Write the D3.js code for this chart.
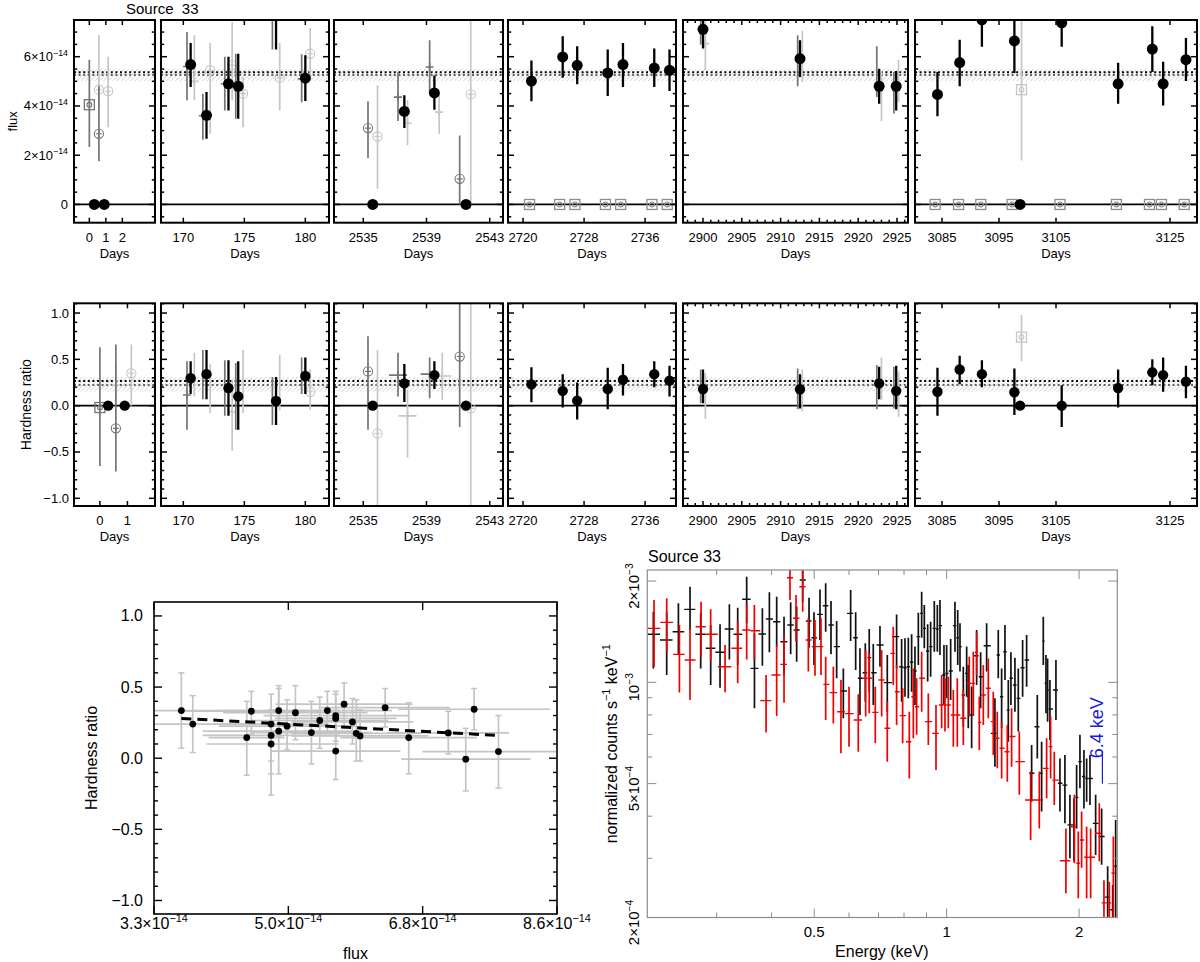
<!DOCTYPE html>
<html><head><meta charset="utf-8">
<script src="https://cdn.jsdelivr.net/npm/d3@7"></script>
<style>body{margin:0;background:#fff}svg{display:block}text{font-family:"Liberation Sans",Arial,Helvetica,sans-serif;fill:#000}</style>
</head><body><svg id="c" width="1200" height="962"></svg>
<script>
// ================= DATA =================
const sourceTitle = "Source  33";
// light-curve panels (days ranges and tick labels)
const panelDaysTop = [[-0.93,3.98],[168.17,181.94],[2533.15,2543.84],[2718.03,2740.05],[2897.42,2926.42],[3080.26,3129.74]];
const panelDaysMid = [[-0.94,2.0],[168.17,181.94],[2533.15,2543.84],[2718.03,2740.05],[2897.42,2926.42],[3080.26,3129.74]];
const dayTicksTop = [[0,1,2],[170,175,180],[2535,2539,2543],[2720,2728,2736],[2900,2905,2910,2915,2920,2925],[3085,3095,3105,3125]];
const dayTicksMid = [[0,1],[170,175,180],[2535,2539,2543],[2720,2728,2736],[2900,2905,2910,2915,2920,2925],[3085,3095,3105,3125]];
const fluxRange = [-0.74, 7.49];              // units of 1e-14
const fluxTicks = [0,2,4,6];
const fluxTickText = ["0","2×10^{−14}","4×10^{−14}","6×10^{−14}"];
const hrRange = [-1.083, 1.105];
const hrTicks = [-1,-0.5,0,0.5,1];
const hrTickText = ["−1.0","−0.5","0.0","0.5","1.0"];
const fluxMeanLines = [5.26, 5.37];
const fluxBand = [5.01, 5.50];
const hrMeanLines = [0.223, 0.267];
const hrBand = [0.151, 0.307];

// black points: [panel, day, value, low, high]
const fluxBlack = [
 [0,0.3,0,null,null],[0,0.9,0,null,null],
 [1,170.6,5.68,4.77,6.56],[1,171.9,3.62,2.67,4.57],[1,173.7,4.9,3.82,6.0],[1,174.5,4.8,3.48,6.12],[1,177.6,8.2,6.29,9.5],[1,180.0,5.13,4.2,6.06],
 [2,2535.6,0,null,null],[2,2537.6,3.78,3.1,4.43],[2,2539.5,4.53,3.85,5.24],[2,2541.5,0,null,null],
 [3,2721.1,5.01,4.19,5.85],[3,2725.2,5.99,5.15,6.83],[3,2727.1,5.65,4.88,6.42],[3,2731.1,5.34,4.4,6.29],[3,2733.1,5.68,4.77,6.56],[3,2737.2,5.54,4.77,6.33],[3,2739.2,5.45,4.61,6.29],
 [4,2900.0,7.11,6.33,8.5],[4,2912.5,5.92,5.18,6.67],[4,2922.7,4.8,4.09,5.51],[4,2924.9,4.8,3.82,5.42],
 [5,3084.2,4.47,3.58,5.38],[5,3088.1,5.76,4.8,6.69],[5,3092.0,7.5,6.4,8.5],[5,3097.7,6.64,5.34,8.0],[5,3098.7,0,null,null],
 [5,3106.0,7.37,6.4,8.5],[5,3115.9,4.9,4.09,5.75],[5,3121.9,6.31,5.38,7.24],[5,3123.8,4.9,4.02,5.79],[5,3127.8,5.88,5.01,6.76]
];
// grey points: [panel, day, value, low, high, marker, shade]  shade d=dark l=light m=medium
const fluxGrey = [
 [0,0.0,4.05,2.33,5.88,"sq","d"],[0,0.58,2.87,1.76,4.8,"o+","d"],[0,0.58,4.66,3.9,6.87,"o+","l"],[0,1.14,4.6,3.14,6.0,"o+","l"],
 [1,170.3,5.6,4.23,7.0,"+","d"],[1,171.6,3.6,2.63,4.5,"+","d"],[1,173.4,4.9,3.82,6.0,"+","d"],[1,174.3,4.8,3.48,6.12,"+","d"],[1,177.3,8.2,6.29,9.5,"+","d"],[1,179.7,5.1,4.15,6.1,"+","d"],
 [1,170.9,5.0,4.23,6.87,"+","l"],[1,172.2,5.45,2.87,6.56,"o+","l"],[1,174.0,5.65,4.23,7.4,"o+","l"],[1,174.9,4.5,3.14,5.18,"o+","l"],[1,177.9,5.15,3.82,6.56,"o+","l"],[1,180.4,6.12,5.04,7.17,"o+","l"],
 [2,2535.3,3.1,1.88,4.19,"o+","d"],[2,2537.2,4.36,3.39,5.38,"+","d"],[2,2539.2,5.58,4.5,6.67,"+","d"],[2,2541.1,1.04,0,2.8,"o+","d"],
 [2,2535.9,2.76,0.64,4.84,"o+","l"],[2,2537.8,3.3,2.4,4.23,"+","l"],[2,2539.8,3.75,2.87,4.5,"+","l"],[2,2541.8,4.47,0,8.5,"o+","l"],
 [3,2720.85,0,null,null,"sq","m"],[3,2724.8,0,null,null,"sq","m"],[3,2726.8,0,null,null,"sq","m"],[3,2730.8,0,null,null,"sq","m"],[3,2732.8,0,null,null,"sq","m"],[3,2736.9,0,null,null,"sq","m"],[3,2738.9,0,null,null,"sq","m"],
 [4,2899.7,7.0,6.5,8.5,"b","d"],[4,2912.2,5.9,4.8,6.87,"b","d"],[4,2922.4,5.0,4.36,6.42,"b","d"],[4,2924.6,4.6,3.69,5.38,"b","d"],
 [4,2900.3,6.53,5.45,8.5,"+","l"],[4,2912.8,6.0,4.97,7.05,"b","l"],[4,2923.0,4.4,3.39,5.42,"b","l"],[4,2925.2,5.0,4.16,5.88,"b","l"],
 [5,3083.8,0,null,null,"sq","m"],[5,3087.9,0,null,null,"sq","m"],[5,3091.8,0,null,null,"sq","m"],[5,3097.3,0,null,null,"sq","m"],[5,3105.7,0,null,null,"sq","m"],
 [5,3115.6,0,null,null,"sq","m"],[5,3121.4,0,null,null,"sq","m"],[5,3123.5,0,null,null,"sq","m"],[5,3127.5,0,null,null,"sq","m"],
 [5,3098.95,4.66,1.79,8.5,"sq","l"]
];
const hrBlack = [
 [0,0.3,0,null,null],[0,0.9,0,null,null],
 [1,170.6,0.296,0.126,0.48],[1,171.9,0.34,0.07,0.6],[1,173.7,0.19,-0.11,0.49],[1,174.5,0.1,-0.26,0.48],[1,177.6,0.05,-0.21,0.31],[1,180.0,0.32,0.126,0.52],
 [2,2535.6,0,null,null],[2,2537.6,0.24,0.04,0.45],[2,2539.5,0.33,0.18,0.48],[2,2541.5,0,null,null],
 [3,2721.1,0.23,0.036,0.415],[3,2725.2,0.16,-0.02,0.34],[3,2727.1,0.054,-0.15,0.25],[3,2731.1,0.18,-0.04,0.41],[3,2733.1,0.28,0.11,0.45],[3,2737.2,0.34,0.2,0.48],[3,2739.2,0.27,0.1,0.43],
 [4,2900.0,0.18,0.025,0.39],[4,2912.5,0.177,-0.03,0.34],[4,2922.7,0.24,0.07,0.42],[4,2924.9,0.16,-0.04,0.43],
 [5,3084.2,0.15,-0.11,0.41],[5,3088.1,0.39,0.23,0.54],[5,3092.0,0.34,0.2,0.49],[5,3097.7,0.145,-0.1,0.4],[5,3098.7,0,null,null],
 [5,3106.0,0,-0.23,0.22],[5,3115.9,0.19,-0.02,0.39],[5,3121.9,0.36,0.22,0.5],[5,3123.8,0.33,0.15,0.52],[5,3127.8,0.26,0.08,0.43]
];
const hrGrey = [
 [0,0.0,-0.02,-0.65,0.63,"sq","d"],[0,0.58,-0.245,-0.71,0.66,"o+","d"],[0,0.58,0.22,0.05,0.45,"+","l"],[0,1.14,0.35,0.0,0.66,"o+","l"],
 [1,170.3,0.115,-0.26,0.48,"+","d"],[1,171.6,0.34,0.07,0.6,"b","d"],[1,173.4,0.19,-0.11,0.49,"b","d"],[1,174.3,0.1,-0.26,0.46,"b","d"],[1,177.3,0.05,-0.21,0.31,"b","d"],[1,179.7,0.32,0.126,0.52,"b","d"],
 [1,170.9,0.25,0.1,0.57,"b","l"],[1,172.2,0.2,-0.08,0.45,"b","l"],[1,174.0,-0.065,-0.49,0.28,"+","l"],[1,174.9,0.2,-0.08,0.6,"b","l"],[1,177.9,0.2,-0.05,0.55,"b","l"],[1,180.4,0.15,-0.05,0.39,"o+","l"],
 [2,2535.3,0.37,-0.26,0.75,"o+","d"],[2,2537.2,0.33,0.1,0.57,"+h","d"],[2,2539.2,0.34,0.08,0.52,"+h","d"],[2,2541.1,0.53,-0.23,1.2,"o+","d"],
 [2,2535.9,-0.3,-1.2,0.6,"o+","l"],[2,2537.8,-0.11,-0.56,0.17,"+h","l"],[2,2540.0,0.32,0.06,0.57,"+h","l"],[2,2541.8,-0.03,-1.2,1.2,"o+","l"],
 [4,2899.7,0.18,0.025,0.39,"b","d"],[4,2912.2,0.18,-0.04,0.4,"b","d"],[4,2922.4,0.24,-0.04,0.44,"b","d"],[4,2924.6,0.16,-0.03,0.42,"b","d"],
 [4,2900.3,0.15,-0.14,0.35,"b","l"],[4,2912.8,0.18,-0.06,0.39,"b","l"],[4,2923.0,0.3,0.06,0.52,"b","l"],[4,2925.2,0.12,-0.12,0.37,"b","l"],
 [5,3098.95,0.74,0.48,0.98,"sq","l"]
];

// flux vs hardness-ratio scatter (flux in 1e-14)
const scFlux  = [3.66,3.81,4.52,4.58,4.84,4.84,4.84,4.94,4.94,5.05,5.16,5.37,5.48,5.58,5.69,5.69,5.69,5.80,5.91,5.96,6.01,6.34,6.65,7.17,7.40,7.51,7.83];
const scFluxErr=[0.85,0.80,0.50,0.90,0.75,0.90,0.85,0.80,1.00,0.90,0.95,0.80,0.90,0.85,0.95,0.80,0.85,0.90,0.80,0.85,0.90,0.85,0.90,0.80,0.85,1.00,1.00];
const scHR    = [0.335,0.24,0.145,0.33,0.24,0.16,0.10,0.335,0.19,0.225,0.32,0.18,0.265,0.335,0.30,0.28,0.05,0.38,0.255,0.175,0.157,0.355,0.145,0.178,-0.007,0.344,0.047];
const scHRlo  = [0.07,0.04,-0.12,0.17,-0.26,-0.02,-0.11,0.15,-0.11,0.06,0.13,-0.04,0.07,0.18,0.12,0.10,-0.15,0.22,0.10,-0.02,-0.02,0.22,-0.11,0.03,-0.23,0.20,-0.21];
const scHRhi  = [0.60,0.44,0.40,0.47,0.45,0.34,0.30,0.51,0.49,0.41,0.51,0.40,0.43,0.47,0.47,0.45,0.26,0.53,0.42,0.41,0.34,0.49,0.39,0.33,0.21,0.49,0.30];
const fitFlux = [3.66, 7.83];
const fitHR   = [0.28, 0.16];
const scXTicks = [3.3, 5.0667, 6.8333, 8.6];
const scXTickText = ["3.3×10^{−14}","5.0×10^{−14}","6.8×10^{−14}","8.6×10^{−14}"];
const scYTicks = [-1,-0.5,0,0.5,1];
const scYTickText = ["−1.0","−0.5","0.0","0.5","1.0"];

// spectrum (energy keV, counts in 1e-3 s^-1 keV^-1)
const blkE  = [0.2154,0.2310,0.2456,0.2610,0.2760,0.2908,0.3054,0.3207,0.3350,0.3511,0.3657,0.3812,0.3954,0.4108,0.4269,0.4420,0.4561,0.4707,0.4866,0.4994,0.5153,0.5309,0.5459,0.5623,0.5823,0.6050,0.6211,0.6353,0.6532,0.6668,0.6811,0.7054,0.7329,0.7696,0.7900,0.8041,0.8182,0.8325,0.8472,0.8622,0.8774,0.8896,0.9054,0.9196,0.9375,0.9524,0.9656,0.9861,1.0000,1.0212,1.0446,1.0597,1.0723,1.0911,1.1104,1.1199,1.1397,1.1700,1.1947,1.2328,1.2875,1.3102,1.3335,1.3570,1.3809,1.4000,1.4297,1.4550,1.4883,1.5199,1.5602,1.6072,1.6439,1.6584,1.6817,1.6962,1.7171,1.7719,1.8095,1.8572,1.9065,1.9468,1.9744,2.0091,2.0516,2.0807,2.1175,2.1811,2.2506,2.3227,2.3845,2.4221];
const blkV  = [1.389,1.336,1.414,1.648,1.389,1.262,1.228,1.440,1.389,1.765,1.100,1.392,1.543,1.514,1.320,1.480,1.431,2.015,1.521,1.357,1.592,1.689,1.480,1.277,0.942,1.603,1.357,1.028,1.068,1.184,1.068,1.291,0.998,1.367,1.113,1.105,1.113,1.147,1.081,1.367,1.603,1.447,1.239,1.277,1.447,1.440,1.474,1.051,1.063,1.081,1.474,1.357,1.277,0.917,1.063,0.906,0.800,1.200,1.039,1.285,0.705,1.206,0.906,1.233,0.827,1.028,0.982,0.896,1.105,1.165,0.537,0.738,0.537,1.326,0.993,0.949,0.833,0.949,0.501,0.495,0.377,0.377,0.455,0.581,0.525,0.518,0.518,0.381,0.348,0.230,0.211,0.284];
const blkLo = [1.100,1.051,1.206,1.431,1.100,0.982,0.964,1.170,1.126,1.497,0.837,1.121,1.228,1.277,1.051,1.211,1.152,1.737,1.268,1.126,1.336,1.414,1.211,1.028,0.782,1.326,1.088,0.800,0.876,0.938,0.856,1.113,0.818,1.100,0.876,0.906,0.896,0.938,0.856,1.126,1.357,1.262,1.005,1.039,1.233,1.233,1.206,0.856,0.896,0.886,1.233,1.126,1.076,0.738,0.906,0.730,0.637,0.982,0.837,1.076,0.561,1.028,0.730,1.016,0.666,0.856,0.818,0.714,0.906,0.970,0.442,0.594,0.413,1.126,0.809,0.764,0.674,0.773,0.413,0.381,0.300,0.294,0.368,0.484,0.422,0.442,0.432,0.307,0.287,0.190,0.180,0.180];
const blkHi = [1.622,1.622,1.717,1.924,1.603,1.480,1.487,1.705,1.667,2.061,1.398,1.660,1.853,1.796,1.567,1.729,1.679,2.300,1.785,1.615,1.889,1.969,1.745,1.521,1.100,1.880,1.615,1.262,1.306,1.440,1.300,1.470,1.206,1.592,1.345,1.351,1.357,1.389,1.277,1.611,1.860,1.697,1.487,1.514,1.745,1.697,1.758,1.291,1.291,1.345,1.737,1.641,1.497,1.113,1.277,1.126,0.972,1.431,1.228,1.497,0.896,1.431,1.100,1.480,1.016,1.228,1.184,1.100,1.336,1.382,0.651,0.917,0.666,1.567,1.206,1.178,1.016,1.165,0.594,0.608,0.463,0.452,0.568,0.698,0.629,0.594,0.608,0.463,0.422,0.284,0.250,0.390];
const redE  = [0.2162,0.2310,0.2469,0.2610,0.2765,0.2908,0.3135,0.3350,0.3511,0.3655,0.3886,0.4108,0.4269,0.4404,0.4545,0.4707,0.4849,0.5020,0.5180,0.5309,0.5526,0.5751,0.5998,0.6297,0.6545,0.6668,0.6883,0.7116,0.7329,0.7562,0.7696,0.7943,0.8225,0.8399,0.8547,0.8774,0.9085,0.9458,0.9741,0.9913,1.0088,1.0355,1.0573,1.0911,1.1259,1.1498,1.1700,1.1863,1.2115,1.2437,1.2764,1.3034,1.3335,1.3737,1.4049,1.4627,1.5520,1.6240,1.6876,1.7233,1.7565,1.8670,1.9513,1.9916,2.0267,2.0807,2.1248,2.2233,2.2783,2.3431,2.3928];
const redV  = [1.447,1.507,1.211,1.165,1.463,1.389,1.113,1.262,1.431,1.424,0.882,1.051,1.131,2.046,1.550,1.924,1.336,1.277,1.277,0.986,0.932,0.818,0.807,0.773,1.028,1.028,0.814,1.016,0.730,1.219,0.938,0.796,0.666,0.906,0.846,1.028,0.764,0.705,0.856,0.856,0.856,0.800,0.800,0.782,0.993,0.993,1.228,0.760,0.917,0.960,0.764,0.682,0.637,0.622,0.690,0.581,0.447,0.447,0.555,0.644,0.512,0.295,0.372,0.290,0.340,0.302,0.302,0.356,0.221,0.221,0.271];
const redLo = [1.113,1.228,0.932,0.886,1.192,1.152,0.934,0.993,1.170,1.173,0.709,0.794,0.870,1.758,1.320,1.622,1.076,1.046,1.051,0.773,0.755,0.615,0.644,0.622,0.791,0.809,0.659,0.791,0.581,0.982,0.747,0.659,0.518,0.682,0.698,0.818,0.651,0.549,0.730,0.714,0.730,0.644,0.644,0.651,0.791,0.800,1.051,0.629,0.747,0.782,0.608,0.555,0.518,0.506,0.561,0.463,0.340,0.368,0.452,0.518,0.432,0.236,0.290,0.228,0.281,0.228,0.228,0.294,0.180,0.180,0.180];
const redHi = [1.758,1.777,1.480,1.447,1.737,1.648,1.291,1.514,1.697,1.697,1.051,1.291,1.382,2.300,1.818,2.300,1.550,1.532,1.550,1.192,1.113,1.016,0.971,0.921,1.248,1.219,0.971,1.248,0.876,1.463,1.126,0.960,0.818,1.100,1.028,1.233,0.927,0.856,1.051,1.028,1.039,0.949,1.028,0.949,1.192,1.233,1.414,0.906,1.126,1.178,0.938,0.818,0.764,0.747,0.837,0.714,0.543,0.543,0.682,0.791,0.622,0.368,0.463,0.360,0.413,0.372,0.368,0.437,0.258,0.255,0.348];
const specXTicks = [0.5,1,2];
const specXMinor = [0.3,0.4,0.6,0.7,0.8,0.9];
const specYTicks = [2e-3,1e-3,5e-4,2e-4];
const specYTickText = ["2×10^{−3}","10^{−3}","5×10^{−4}","2×10^{−4}"];
const specYMinor = [9e-4,8e-4,7e-4,6e-4,4e-4,3e-4];
const lineE = 2.26, lineV = [5.0e-4, 6.2e-4], lineLabel = "6.4 keV";

// ================= DRAWING =================
const svg = d3.select("#c");
const defs = svg.append("defs");
const pat = defs.append("pattern").attr("id","hatch").attr("patternUnits","userSpaceOnUse").attr("width",4.5).attr("height",4.5);
pat.append("path").attr("d","M-1,1 l2,-2 M0,4.5 l4.5,-4.5 M3.5,5.5 l2,-2").attr("stroke","#bdbdbd").attr("stroke-width",0.7);

function rich(t, str, size){
  const parts = str.split(/(\^\{[^}]*\})/).filter(s=>s.length);
  let up=false; const off=size*0.42;
  parts.forEach(p=>{
    if(p.startsWith("^{")){ t.append("tspan").attr("font-size",size*0.68).attr("dy",up?0:-off).text(p.slice(2,-1)); up=true; }
    else { t.append("tspan").attr("dy",up?off:0).text(p); up=false; }
  });
  return t;
}

const panelX = [[74,155],[161,329],[334,503],[508,676],[683,908],[915,1197]];
const rows = {
  flux:{y:[20,222.7], dom:panelDaysTop, ticks:dayTicksTop, vr:fluxRange, vt:fluxTicks, vtt:fluxTickText, minorStep:0.5,
        mean:fluxMeanLines, band:fluxBand, black:fluxBlack, grey:fluxGrey, label:"flux", r:5.5, lab:{x:68}},
  hr:{y:[303.3,506], dom:panelDaysMid, ticks:dayTicksMid, vr:hrRange, vt:hrTicks, vtt:hrTickText, minorStep:0.1,
        mean:hrMeanLines, band:hrBand, black:hrBlack, grey:hrGrey, label:"Hardness ratio", r:5.2, lab:{x:69}}
};
const shadeCol = {d:"#747474", l:"#c6c6c6", m:"#8e8e8e"};

function drawRow(key){
  const R = rows[key];
  const [y0,y1] = R.y;
  const y = d3.scaleLinear().domain(R.vr).range([y1,y0]);
  panelX.forEach(([x0,x1],i)=>{
    const x = d3.scaleLinear().domain(R.dom[i]).range([x0,x1]);
    const cid = `clip-${key}-${i}`;
    defs.append("clipPath").attr("id",cid).append("rect").attr("x",x0).attr("y",y0).attr("width",x1-x0).attr("height",y1-y0);
    const g = svg.append("g").attr("clip-path",`url(#${cid})`);
    // band & mean lines
    g.append("rect").attr("x",x0).attr("width",x1-x0).attr("y",y(R.band[1])).attr("height",y(R.band[0])-y(R.band[1])).attr("fill","url(#hatch)");
    R.mean.forEach((m,j)=>g.append("line").attr("x1",x0).attr("x2",x1).attr("y1",y(m)).attr("y2",y(m))
       .attr("stroke",j===0?"#333":"#000").attr("stroke-width",j===0?1.5:1.9).attr("stroke-dasharray","2,2.6"));
    g.append("line").attr("x1",x0).attr("x2",x1).attr("y1",y(0)).attr("y2",y(0)).attr("stroke","#000").attr("stroke-width",1.8);
    // grey points (light first, then medium/dark)
    const greys = R.grey.filter(d=>d[0]===i).sort((a,b)=>(a[6]==="l"?0:1)-(b[6]==="l"?0:1));
    greys.forEach(d=>{
      const cx=x(d[1]), cy=y(d[2]), col=shadeCol[d[6]], m=d[5];
      if(d[3]!==null) g.append("line").attr("x1",cx).attr("x2",cx).attr("y1",y(d[3])).attr("y2",y(d[4])).attr("stroke",col).attr("stroke-width",1.7);
      if(m==="o+"){
        g.append("circle").attr("cx",cx).attr("cy",cy).attr("r",4.6).attr("fill","none").attr("stroke",col).attr("stroke-width",1.1);
        g.append("path").attr("d",`M${cx-3},${cy}h6M${cx},${cy-3}v6`).attr("stroke",col).attr("stroke-width",1.1);
      } else if(m==="+"){
        g.append("path").attr("d",`M${cx-4},${cy}h8M${cx},${cy-4}v8`).attr("stroke",col).attr("stroke-width",1.6);
      } else if(m==="+h"){
        g.append("path").attr("d",`M${cx-9},${cy}h18M${cx},${cy-4}v8`).attr("stroke",col).attr("stroke-width",1.6);
      } else if(m==="sq"){
        g.append("rect").attr("x",cx-5).attr("y",cy-5).attr("width",10).attr("height",10).attr("fill","none").attr("stroke",col).attr("stroke-width",1.3);
        g.append("circle").attr("cx",cx).attr("cy",cy).attr("r",2.4).attr("fill","none").attr("stroke",col).attr("stroke-width",1.1);
      }
    });
    // black points
    R.black.filter(d=>d[0]===i).forEach(d=>{
      const cx=x(d[1]);
      if(d[3]!==null) g.append("line").attr("x1",cx).attr("x2",cx).attr("y1",y(d[3])).attr("y2",y(d[4])).attr("stroke","#000").attr("stroke-width",2.3);
      g.append("circle").attr("cx",cx).attr("cy",y(d[2])).attr("r",R.r).attr("fill","#000");
    });
    // ticks
    const tk = svg.append("g").attr("stroke","#000").attr("stroke-width",1.5);
    const [v0,v1]=R.vr;
    d3.range(Math.ceil(v0/R.minorStep)*R.minorStep, v1, R.minorStep).forEach(v=>{
      const isMajor = R.vt.some(t=>Math.abs(t-v)<1e-6);
      const L = isMajor?6:3.2, yy=y(v);
      tk.append("line").attr("x1",x0).attr("x2",x0+L).attr("y1",yy).attr("y2",yy);
      tk.append("line").attr("x1",x1).attr("x2",x1-L).attr("y1",yy).attr("y2",yy);
    });
    R.ticks[i].forEach(t=>{
      const xx=x(t);
      tk.append("line").attr("x1",xx).attr("x2",xx).attr("y1",y1).attr("y2",y1-5);
      tk.append("line").attr("x1",xx).attr("x2",xx).attr("y1",y0).attr("y2",y0+5);
      svg.append("text").attr("x",xx).attr("y",y1+19).attr("text-anchor","middle").attr("font-size",13).text(t);
    });
    if(i===4){
      d3.range(Math.ceil(R.dom[i][0]), R.dom[i][1]).forEach(t=>{
        if(R.ticks[i].includes(t)) return;
        const xx=x(t);
        tk.append("line").attr("x1",xx).attr("x2",xx).attr("y1",y1).attr("y2",y1-3);
        tk.append("line").attr("x1",xx).attr("x2",xx).attr("y1",y0).attr("y2",y0+3);
      });
    }
    svg.append("text").attr("x",(x0+x1)/2).attr("y",y1+35).attr("text-anchor","middle").attr("font-size",13).text("Days");
    svg.append("rect").attr("x",x0).attr("y",y0).attr("width",x1-x0).attr("height",y1-y0).attr("fill","none").attr("stroke","#000").attr("stroke-width",2);
  });
  // y tick labels
  R.vt.forEach((v,k)=>{
    rich(svg.append("text").attr("x",R.lab.x).attr("y",y(v)+4.5).attr("text-anchor","end").attr("font-size",13), R.vtt[k], 13);
  });
  svg.append("text").attr("transform",`translate(${key==="flux"?17:31},${(y0+y1)/2}) rotate(-90)`)
     .attr("text-anchor","middle").attr("font-size",key==="flux"?13:14).text(R.label);
}
drawRow("flux");
drawRow("hr");
svg.append("text").attr("x",126).attr("y",13.5).attr("font-size",15).attr("xml:space","preserve").style("white-space","pre").text(sourceTitle);

// ---------- scatter ----------
(function(){
  const X0=154,X1=557,Y0=602,Y1=914;
  const sx=d3.scaleLinear().domain([3.3,8.6]).range([X0,X1]);
  const sy=d3.scaleLinear().domain([-1.095,1.098]).range([Y1,Y0]);
  const cid="clip-sc";
  defs.append("clipPath").attr("id",cid).append("rect").attr("x",X0).attr("y",Y0).attr("width",X1-X0).attr("height",Y1-Y0);
  const g=svg.append("g").attr("clip-path",`url(#${cid})`);
  const gc="#c4c4c4";
  scFlux.forEach((f,k)=>{
    const cx=sx(f), cy=sy(scHR[k]);
    g.append("line").attr("x1",sx(f-scFluxErr[k])).attr("x2",sx(f+scFluxErr[k])).attr("y1",cy).attr("y2",cy).attr("stroke",gc).attr("stroke-width",1.7);
    g.append("line").attr("x1",cx).attr("x2",cx).attr("y1",sy(scHRlo[k])).attr("y2",sy(scHRhi[k])).attr("stroke",gc).attr("stroke-width",1.7);
    [scHRlo[k],scHRhi[k]].forEach(v=>g.append("line").attr("x1",cx-3).attr("x2",cx+3).attr("y1",sy(v)).attr("y2",sy(v)).attr("stroke",gc).attr("stroke-width",1.5));
  });
  g.append("line").attr("x1",sx(fitFlux[0])).attr("x2",sx(fitFlux[1])).attr("y1",sy(fitHR[0])).attr("y2",sy(fitHR[1]))
   .attr("stroke","#000").attr("stroke-width",3).attr("stroke-dasharray","10,6");
  scFlux.forEach((f,k)=>g.append("circle").attr("cx",sx(f)).attr("cy",sy(scHR[k])).attr("r",3.4).attr("fill","#000"));
  const tk=svg.append("g").attr("stroke","#000").attr("stroke-width",1.4);
  d3.range(-1.0,1.05,0.1).forEach(v=>{
    const major = scYTicks.some(t=>Math.abs(t-v)<1e-6), L=major?8:4, yy=sy(v);
    tk.append("line").attr("x1",X0).attr("x2",X0+L).attr("y1",yy).attr("y2",yy);
    tk.append("line").attr("x1",X1).attr("x2",X1-L).attr("y1",yy).attr("y2",yy);
  });
  scXTicks.forEach((t,k)=>{
    const xx=sx(t);
    tk.append("line").attr("x1",xx).attr("x2",xx).attr("y1",Y1).attr("y2",Y1-8);
    tk.append("line").attr("x1",xx).attr("x2",xx).attr("y1",Y0).attr("y2",Y0+8);
    rich(svg.append("text").attr("x",xx).attr("y",Y1+15).attr("text-anchor","middle").attr("font-size",16),scXTickText[k],16);
  });
  scYTicks.forEach((t,k)=>svg.append("text").attr("x",X0-11).attr("y",sy(t)+5.5).attr("text-anchor","end").attr("font-size",16).text(scYTickText[k]));
  svg.append("rect").attr("x",X0).attr("y",Y0).attr("width",X1-X0).attr("height",Y1-Y0).attr("fill","none").attr("stroke","#000").attr("stroke-width",1.6);
  svg.append("text").attr("transform",`translate(97,${(Y0+Y1)/2}) rotate(-90)`).attr("text-anchor","middle").attr("font-size",16).text("Hardness ratio");
  svg.append("text").attr("x",(X0+X1)/2).attr("y",959).attr("text-anchor","middle").attr("font-size",16).text("flux");
})();

// ---------- spectrum ----------
(function(){
  const X0=647.3,X1=1117.3,Y0=570,Y1=917.5;
  const ex=d3.scaleLog().domain([0.2087,2.443]).range([X0,X1]);
  const ey=d3.scaleLog().domain([2.0e-4,2.157e-3]).range([Y1,Y0]);
  const cid="clip-sp";
  defs.append("clipPath").attr("id",cid).append("rect").attr("x",X0).attr("y",Y0).attr("width",X1-X0).attr("height",Y1-Y0);
  const g=svg.append("g").attr("clip-path",`url(#${cid})`);
  function series(E,V,Lo,Hi,col){
    E.forEach((e,k)=>{
      const prev = k>0?E[k-1]:e*e/E[k+1], next = k<E.length-1?E[k+1]:e*e/E[k-1];
      const eL=Math.sqrt(prev*e), eH=Math.sqrt(e*next);
      const yy=ey(V[k]*1e-3), xx=ex(e);
      g.append("line").attr("x1",ex(eL)).attr("x2",ex(eH)).attr("y1",yy).attr("y2",yy).attr("stroke",col).attr("stroke-width",1.4);
      g.append("line").attr("x1",xx).attr("x2",xx).attr("y1",ey(Lo[k]*1e-3)).attr("y2",ey(Hi[k]*1e-3)).attr("stroke",col).attr("stroke-width",1.7);
    });
  }
  series(blkE,blkV,blkLo,blkHi,"#111");
  series(redE,redV,redLo,redHi,"#f00000");
  const tk=svg.append("g").attr("stroke","#8c8c8c").attr("stroke-width",1);
  specXTicks.forEach(t=>{
    const xx=ex(t);
    tk.append("line").attr("x1",xx).attr("x2",xx).attr("y1",Y1).attr("y2",Y1-9);
    tk.append("line").attr("x1",xx).attr("x2",xx).attr("y1",Y0).attr("y2",Y0+9);
    svg.append("text").attr("x",xx).attr("y",937).attr("text-anchor","middle").attr("font-size",15).text(t);
  });
  specXMinor.forEach(t=>{
    const xx=ex(t);
    tk.append("line").attr("x1",xx).attr("x2",xx).attr("y1",Y1).attr("y2",Y1-5);
    tk.append("line").attr("x1",xx).attr("x2",xx).attr("y1",Y0).attr("y2",Y0+5);
  });
  specYTicks.forEach((t,k)=>{
    const yy=ey(t);
    tk.append("line").attr("x1",X0).attr("x2",X0+9).attr("y1",yy).attr("y2",yy);
    tk.append("line").attr("x1",X1).attr("x2",X1-9).attr("y1",yy).attr("y2",yy);
    rich(svg.append("text").attr("transform",`translate(639,${yy+5}) rotate(-90)`).attr("text-anchor","middle").attr("font-size",15),specYTickText[k],15);
  });
  specYMinor.forEach(t=>{
    const yy=ey(t);
    tk.append("line").attr("x1",X0).attr("x2",X0+5).attr("y1",yy).attr("y2",yy);
    tk.append("line").attr("x1",X1).attr("x2",X1-5).attr("y1",yy).attr("y2",yy);
  });
  svg.append("rect").attr("x",X0).attr("y",Y0).attr("width",X1-X0).attr("height",Y1-Y0).attr("fill","none").attr("stroke","#8c8c8c").attr("stroke-width",1.2);
  // line marker
  svg.append("line").attr("x1",ex(lineE)).attr("x2",ex(lineE)).attr("y1",ey(lineV[0])).attr("y2",ey(lineV[1])).attr("stroke","#1a1ae0").attr("stroke-width",1.2);
  svg.append("text").attr("transform",`translate(${ex(lineE)+1},${ey(lineV[1])+6}) rotate(-90)`).attr("font-size",18).style("fill","#1a1ae0").text(lineLabel);
  svg.append("text").attr("x",648).attr("y",562).attr("font-size",16).text("Source 33");
  svg.append("text").attr("x",(X0+X1)/2-0.5).attr("y",957).attr("text-anchor","middle").attr("font-size",16).text("Energy (keV)");
  rich(svg.append("text").attr("transform",`translate(617,${(Y0+Y1)/2}) rotate(-90)`).attr("text-anchor","middle").attr("font-size",16),"normalized counts s^{−1} keV^{−1}",16);
})();
</script></body></html>
